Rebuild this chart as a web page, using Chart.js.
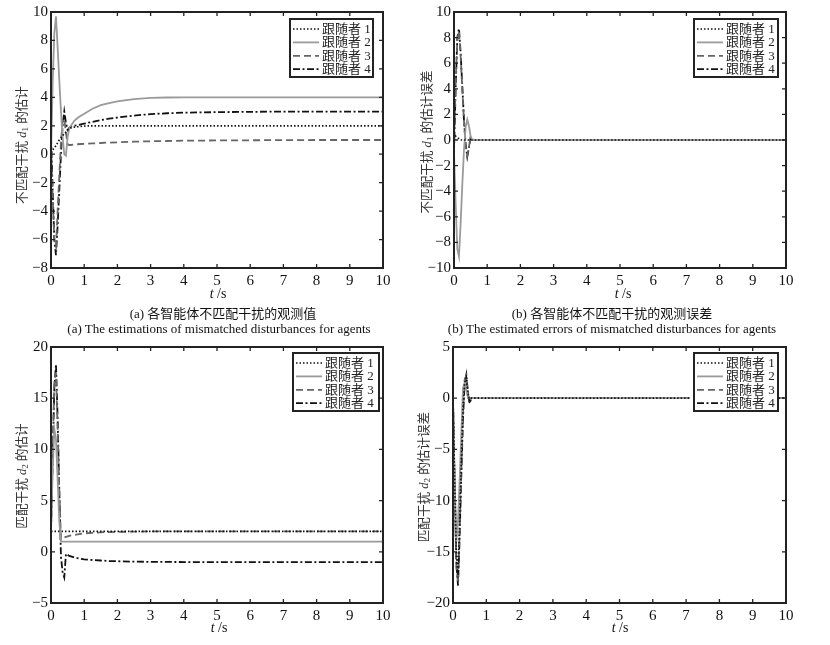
<!DOCTYPE html>
<html lang="zh">
<head>
<meta charset="UTF-8">
<title>disturbance observer</title>
<script src="https://cdn.jsdelivr.net/npm/chart.js@4.4.0/dist/chart.umd.min.js"></script>
<style>
  body { margin:0; background:#fff; width:830px; height:645px; position:relative; overflow:hidden;
         font-family:"Liberation Serif","Noto Sans CJK SC",serif; color:#111; }
  canvas { position:absolute; }
  .lbl { position:absolute; white-space:nowrap; transform:translate(-50%,-50%); font-size:14px; }
  .cap { font-size:13px; }
  .ytitle { position:absolute; white-space:nowrap; transform:translate(-50%,-50%) rotate(-90deg);
            font-size:12.6px; color:#333; }
  sub { font-size:9px; vertical-align:-2px; }
</style>
</head>
<body>
<canvas id="ca" width="405" height="290" style="left:0;top:0"></canvas>
<canvas id="cb" width="425" height="290" style="left:405px;top:0"></canvas>
<canvas id="cc" width="405" height="290" style="left:0;top:335px"></canvas>
<canvas id="cd" width="425" height="290" style="left:405px;top:335px"></canvas>

<div class="ytitle" style="left:20px;top:145px">不匹配干扰 <i>d</i><sub>1</sub> 的估计</div>
<div class="ytitle" style="left:425px;top:142px">不匹配干扰 <i>d</i><sub>1</sub> 的估计误差</div>
<div class="ytitle" style="left:20px;top:476px">匹配干扰 <i>d</i><sub>2</sub> 的估计</div>
<div class="ytitle" style="left:422px;top:477px">匹配干扰 <i>d</i><sub>2</sub> 的估计误差</div>

<div class="lbl" style="left:218px;top:294px"><i>t</i> /s</div>
<div class="lbl" style="left:623px;top:294px"><i>t</i> /s</div>
<div class="lbl" style="left:219px;top:628px"><i>t</i> /s</div>
<div class="lbl" style="left:620px;top:628px"><i>t</i> /s</div>

<div class="lbl cap" style="left:223px;top:312px">(a) 各智能体不匹配干扰的观测值</div>
<div class="lbl cap" style="left:219px;top:329px">(a) The estimations of mismatched disturbances for agents</div>
<div class="lbl cap" style="left:612px;top:312px">(b) 各智能体不匹配干扰的观测误差</div>
<div class="lbl cap" style="left:612px;top:329px">(b) The estimated errors of mismatched disturbances for agents</div>

<script>
// time samples (s), denser during the transient
const t = [0, 0.05, 0.1, 0.15, 0.2, 0.25, 0.3, 0.35, 0.4, 0.45, 0.5, 0.55, 0.6, 0.7, 0.8, 0.9,
           1, 1.25, 1.5, 1.75, 2, 2.5, 3, 3.5, 4, 5, 6, 7, 8, 9, 10];
const labels = ['跟随者 1', '跟随者 2', '跟随者 3', '跟随者 4'];
const xTicks = [0, 1, 2, 3, 4, 5, 6, 7, 8, 9, 10];

// (a) estimate of mismatched disturbance d1
const d1Est1 = [0.1, 0.3, 0.45, 0.6, 0.8, 1.0, 1.15, 1.3, 1.45, 1.55, 1.7, 1.78, 1.85, 1.9, 1.93, 1.96,
                1.98, 2, 2, 2, 2, 2, 2, 2, 2, 2, 2, 2, 2, 2, 2];
const d1Est2 = [0, 5, 8.5, 9.7, 7.5, 5.2, 3.0, 1.2, 0.0, -0.1, 1.2, 1.8, 2.0, 2.35, 2.55, 2.7,
                2.85, 3.2, 3.45, 3.6, 3.72, 3.88, 3.96, 3.99, 4, 4, 4, 4, 4, 4, 4];
const d1Est3 = [0.5, -3, -6, -6.5, -4, -1.5, 0.8, 2.3, 2.5, 1.5, 0.7, 0.65, 0.65, 0.68, 0.7, 0.72,
                0.73, 0.76, 0.79, 0.82, 0.84, 0.88, 0.91, 0.93, 0.95, 0.97, 0.98, 0.99, 1, 1, 1];
const d1Est4 = [1.2, -2.5, -6, -7.1, -5, -2.5, 0, 2, 3.0, 2.2, 1.7, 1.85, 1.95, 2.0, 2.05, 2.1,
                2.15, 2.28, 2.4, 2.5, 2.58, 2.72, 2.82, 2.88, 2.92, 2.96, 2.98, 3, 3, 3, 3];
const yTicksA = [-8, -6, -4, -2, 0, 2, 4, 6, 8, 10];

// (b) estimation error of d1
const d1Err1 = [0, 0.3, 0.2, 0.1, 0, 0, 0, 0, 0, 0, 0, 0, 0, 0, 0, 0,
                0, 0, 0, 0, 0, 0, 0, 0, 0, 0, 0, 0, 0, 0, 0];
const d1Err2 = [-1, -5, -8.5, -9.1, -6.5, -3.5, -0.8, 1.0, 1.6, 1.1, 0.3, 0, 0, 0, 0, 0,
                0, 0, 0, 0, 0, 0, 0, 0, 0, 0, 0, 0, 0, 0, 0];
const d1Err3 = [0, 4.5, 7.8, 8.5, 6.5, 4, 1.5, -0.5, -1.2, -0.5, 0.1, 0.05, 0, 0, 0, 0,
                0, 0, 0, 0, 0, 0, 0, 0, 0, 0, 0, 0, 0, 0, 0];
const d1Err4 = [-1, 4, 8, 8.7, 6.8, 4.2, 1.6, -0.3, -1.3, -0.6, 0.2, 0.1, 0, 0, 0, 0,
                0, 0, 0, 0, 0, 0, 0, 0, 0, 0, 0, 0, 0, 0, 0];
const yTicksB = [-10, -8, -6, -4, -2, 0, 2, 4, 6, 8, 10];

// (c) estimate of matched disturbance d2
const d2Est1 = [2, 2, 2, 2, 2, 2, 2, 2, 2, 2, 2, 2, 2, 2, 2, 2,
                2, 2, 2, 2, 2, 2, 2, 2, 2, 2, 2, 2, 2, 2, 2];
const d2Est2 = [2, 8, 12, 11, 7, 3, 1, 1, 1, 1, 1, 1, 1, 1, 1, 1,
                1, 1, 1, 1, 1, 1, 1, 1, 1, 1, 1, 1, 1, 1, 1];
const d2Est3 = [2, 10, 16.5, 17.5, 12, 6, 1.2, 1.3, 1.4, 1.45, 1.5, 1.55, 1.6, 1.65, 1.7, 1.75,
                1.8, 1.85, 1.9, 1.93, 1.95, 1.97, 1.99, 2, 2, 2, 2, 2, 2, 2, 2];
const d2Est4 = [2, 9, 16, 18.3, 13, 6, -0.5, -2.0, -2.5, -0.2, -0.3, -0.4, -0.45, -0.55, -0.62, -0.68,
                -0.73, -0.8, -0.85, -0.9, -0.92, -0.96, -0.98, -0.99, -1, -1, -1, -1, -1, -1, -1];
const yTicksC = [-5, 0, 5, 10, 15, 20];

// (d) estimation error of d2
const d2Err1 = [0, -8, -15, -17.5, -12, -6, -1, 1.5, 2.0, 0.5, -0.3, 0, 0, 0, 0, 0,
                0, 0, 0, 0, 0, 0, 0, 0, 0, 0, 0, 0, 0, 0, 0];
const d2Err2 = [-1, -8, -14, -12, -8, -3.5, 1.0, 1.5, 0.8, 0, 0, 0, 0, 0, 0, 0,
                0, 0, 0, 0, 0, 0, 0, 0, 0, 0, 0, 0, 0, 0, 0];
const d2Err3 = [0, -9, -16.5, -18, -13, -7, -1.5, 1.8, 2.2, 0.3, -0.2, 0, 0, 0, 0, 0,
                0, 0, 0, 0, 0, 0, 0, 0, 0, 0, 0, 0, 0, 0, 0];
const d2Err4 = [0, -8.5, -16, -18.3, -13.5, -7.5, -2, 1.5, 2.3, 0.5, -0.5, 0, 0, 0, 0, 0,
                0, 0, 0, 0, 0, 0, 0, 0, 0, 0, 0, 0, 0, 0, 0];
const yTicksD = [-20, -15, -10, -5, 0, 5];

// line look for followers 1..4 (dotted, solid grey, dashed, dash-dot)
const styles = [
  { color: '#111', width: 1.7, dash: [1.5, 2] },
  { color: '#9a9a9a', width: 1.8, dash: [] },
  { color: '#666', width: 1.8, dash: [7, 4] },
  { color: '#111', width: 1.8, dash: [7, 2.5, 2, 2.5] }
];

const tickFont = { family: '"Liberation Serif", serif', size: 15 };

// matlab-like box: inward ticks on all sides + boxed legend
const frame = {
  id: 'frame',
  afterDraw(chart, args, opts) {
    const { ctx, chartArea: a, scales: { x, y } } = chart;
    ctx.save();
    ctx.strokeStyle = '#222';
    ctx.lineWidth = 1.3;
    ctx.setLineDash([]);
    ctx.beginPath();
    x.ticks.forEach(tk => {
      const px = x.getPixelForValue(tk.value);
      ctx.moveTo(px, a.bottom); ctx.lineTo(px, a.bottom - 4);
      ctx.moveTo(px, a.top); ctx.lineTo(px, a.top + 4);
    });
    y.ticks.forEach(tk => {
      const py = y.getPixelForValue(tk.value);
      ctx.moveTo(a.left, py); ctx.lineTo(a.left + 4, py);
      ctx.moveTo(a.right, py); ctx.lineTo(a.right - 4, py);
    });
    ctx.stroke();

    const L = opts.box;
    const bx = a.right - L.right - L.w, by = a.top + L.top;
    ctx.fillStyle = '#fff';
    ctx.fillRect(bx - 4, by, L.w + 4, L.h);
    chart.data.datasets.forEach((ds, i) => {
      const ry = by + 10 + i * 13.4;
      ctx.setLineDash(ds.borderDash);
      ctx.strokeStyle = ds.borderColor;
      ctx.lineWidth = ds.borderWidth;
      ctx.beginPath(); ctx.moveTo(bx + 3, ry); ctx.lineTo(bx + 29, ry); ctx.stroke();
      ctx.setLineDash([]);
      ctx.fillStyle = '#222';
      ctx.font = '13px "Liberation Serif", "Noto Sans CJK SC"';
      ctx.textBaseline = 'middle';
      ctx.fillText(ds.label, bx + 32, ry + 0.5);
    });
    ctx.setLineDash([]);
    ctx.lineWidth = 2;
    ctx.strokeStyle = '#222';
    ctx.strokeRect(bx, by, L.w, L.h);
    ctx.strokeRect(a.left, a.top, a.right - a.left, a.bottom - a.top);
    ctx.restore();
  }
};

function makeChart(id, series, yTicks, yWidth, padRight, box) {
  new Chart(document.getElementById(id), {
    type: 'line',
    data: {
      datasets: series.map((ys, i) => ({
        label: labels[i],
        data: t.map((tx, j) => ({ x: tx, y: ys[j] })),
        borderColor: styles[i].color,
        borderWidth: styles[i].width,
        borderDash: styles[i].dash,
        pointRadius: 0,
        fill: false,
        tension: 0
      }))
    },
    options: {
      responsive: false,
      animation: false,
      events: [],
      layout: { padding: { top: 10, right: padRight, left: 0, bottom: 0 } },
      plugins: { legend: { display: false }, tooltip: { enabled: false }, frame: { box } },
      scales: {
        x: {
          type: 'linear', min: 0, max: 10,
          afterBuildTicks: s => { s.ticks = xTicks.map(v => ({ value: v })); },
          afterFit: s => { s.height = 22; },
          grid: { display: false, drawTicks: false },
          border: { display: false },
          ticks: { font: tickFont, color: '#111', padding: 4, maxRotation: 0, autoSkip: false }
        },
        y: {
          type: 'linear', min: yTicks[0], max: yTicks[yTicks.length - 1],
          afterBuildTicks: s => { s.ticks = yTicks.map(v => ({ value: v })); },
          afterFit: s => { s.width = yWidth; },
          grid: { display: false, drawTicks: false },
          border: { display: false },
          ticks: { font: tickFont, color: '#111', padding: 3, autoSkip: false,
                   callback: v => String(v).replace('-', '\u2212') }
        }
      }
    },
    plugins: [frame]
  });
}

makeChart('ca', [d1Est1, d1Est2, d1Est3, d1Est4], yTicksA, 51, 22, { right: 10, top: 7, w: 83, h: 58 });
makeChart('cb', [d1Err1, d1Err2, d1Err3, d1Err4], yTicksB, 49, 44, { right: 8, top: 7, w: 84, h: 58 });
makeChart('cc', [d2Est1, d2Est2, d2Est3, d2Est4], yTicksC, 51, 22, { right: 4, top: 6, w: 86, h: 58 });
makeChart('cd', [d2Err1, d2Err2, d2Err3, d2Err4], yTicksD, 48, 44, { right: 8, top: 6, w: 84, h: 58 });
</script>
</body>
</html>
